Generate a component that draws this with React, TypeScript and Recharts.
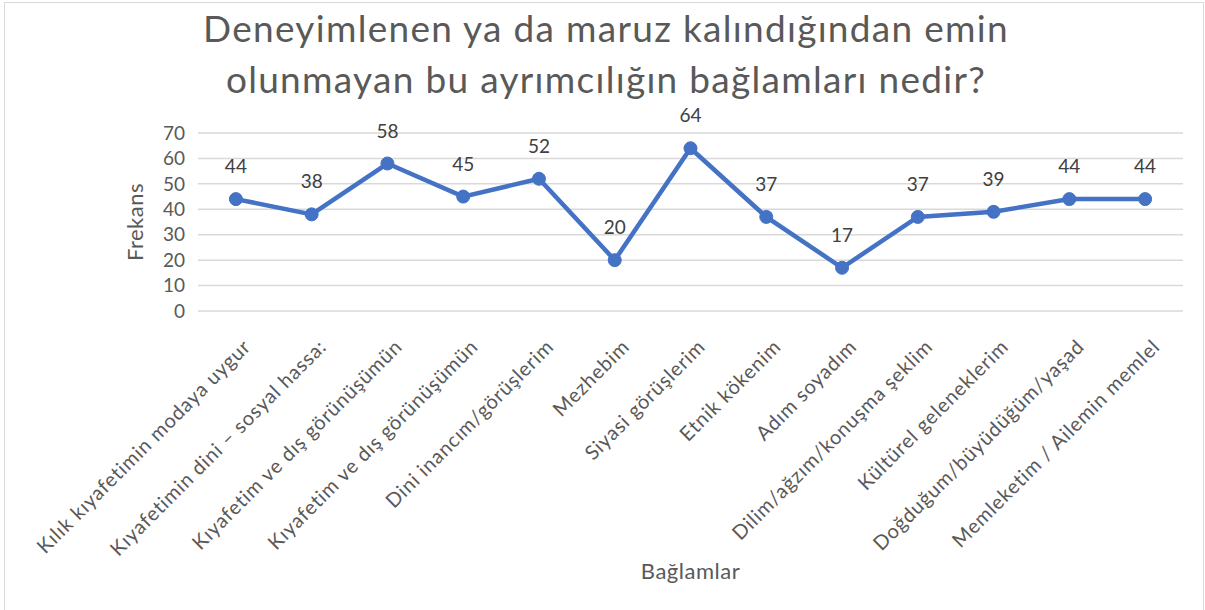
import * as React from "react";
import {
  CartesianGrid,
  Label,
  LabelList,
  Line,
  LineChart,
  XAxis,
  YAxis,
} from "recharts";

const categories = [
  "Kılık kıyafetimin modaya uygur",
  "Kıyafetimin dini – sosyal hassa:",
  "Kıyafetim ve dış görünüşümün",
  "Kıyafetim ve dış görünüşümün ",
  "Dini inancım/görüşlerim",
  "Mezhebim",
  "Siyasi görüşlerim",
  "Etnik kökenim",
  "Adım soyadım",
  "Dilim/ağzım/konuşma şeklim",
  "Kültürel geleneklerim",
  "Doğduğum/büyüdüğüm/yaşad",
  "Memleketim / Ailemin memlel",
];

const frequencies = [44, 38, 58, 45, 52, 20, 64, 37, 17, 37, 39, 44, 44];

const yTicks = [0, 10, 20, 30, 40, 50, 60, 70];

const titleLines = [
  "Deneyimlenen ya da maruz kalındığından emin",
  "olunmayan bu ayrımcılığın bağlamları nedir?",
];

const FONT = "Lato, 'Open Sans', sans-serif";
const GREY = "#595959";

const data = categories.map((label, i) => ({ label, value: frequencies[i] }));

export default function App() {
  return (
    <div
      style={{
        position: "absolute",
        left: 0,
        top: 0,
        width: 1205,
        height: 610,
        background: "#fff",
        overflow: "hidden",
        fontFamily: FONT,
      }}
    >
      <div
        style={{
          position: "absolute",
          left: 4,
          top: 2,
          width: 1198,
          height: 640,
          border: "1px solid #d9d9d9",
        }}
      />
      <div
        style={{
          position: "absolute",
          left: 0,
          top: 2,
          width: 1212,
          textAlign: "center",
          fontSize: 37,
          letterSpacing: 1.3,
          lineHeight: "51px",
          color: GREY,
        }}
      >
        {titleLines.map((t) => (
          <div key={t}>{t}</div>
        ))}
      </div>
      <div style={{ position: "absolute", left: 0, top: 0 }}>
        <LineChart
          width={1205}
          height={610}
          data={data}
          margin={{ top: 133, right: 22, left: 0, bottom: 0 }}
        >
          <CartesianGrid
            vertical={false}
            stroke="#d9d9d9"
            strokeWidth={1.5}
          />
          <XAxis
            dataKey="label"
            scale="band"
            height={299}
            interval={0}
            axisLine={false}
            tickLine={false}
            tickSize={0}
            tickMargin={27}
            tick={{
              angle: -45,
              textAnchor: "end",
              fill: GREY,
              fontSize: 20,
              letterSpacing: 0.8,
              fontFamily: FONT,
              dx: 6,
            }}
          >
            <Label
              value="Bağlamlar"
              position="center"
              dy={111}
              fill={GREY}
              fontSize={22}
              letterSpacing={0.5}
              fontFamily={FONT}
            />
          </XAxis>
          <YAxis
            width={198}
            domain={[0, 70]}
            ticks={yTicks}
            interval={0}
            axisLine={false}
            tickLine={false}
            tickSize={0}
            tickMargin={13}
            tick={{ fill: GREY, fontSize: 19, fontFamily: FONT }}
          >
            <Label
              value="Frekans"
              position="center"
              angle={-90}
              dx={36}
              fill={GREY}
              fontSize={22}
              letterSpacing={0.5}
              fontFamily={FONT}
            />
          </YAxis>
          <Line
            type="linear"
            dataKey="value"
            stroke="#4472c4"
            strokeWidth={4.5}
            dot={{ r: 6.5, fill: "#4472c4", stroke: "#4472c4", strokeWidth: 1 }}
            activeDot={false}
            isAnimationActive={false}
          >
            <LabelList
              dataKey="value"
              position="top"
              offset={26}
              fill="#404040"
              fontSize={19}
              fontFamily={FONT}
            />
          </Line>
        </LineChart>
      </div>
    </div>
  );
}
